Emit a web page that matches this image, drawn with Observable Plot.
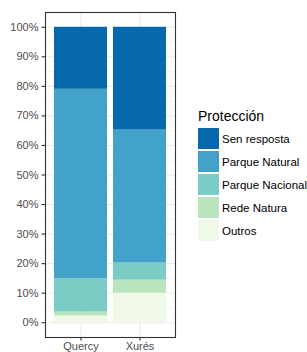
<!DOCTYPE html>
<html>
<head>
<meta charset="utf-8">
<script src="https://cdn.jsdelivr.net/npm/d3@7"></script>
<script src="https://cdn.jsdelivr.net/npm/@observablehq/plot@0.6"></script>
<style>
  html, body { margin: 0; padding: 0; background: #fff; }
  #wrap { position: relative; width: 307px; height: 352px; font-family: "Liberation Sans", Arial, sans-serif; }
  #legend { position: absolute; left: 198px; top: 109px; }
  #legend .title { font-size: 14px; color: #000; height: 18px; line-height: 14px; }
  #legend .row { display: flex; align-items: center; height: 23px; }
  #legend .sw { width: 21px; height: 21px; }
  #legend .lab { margin-left: 3px; font-size: 11.5px; color: #000; white-space: nowrap; }
</style>
</head>
<body>
<div id="wrap"><div id="chart"></div><div id="legend"></div></div>
<script>
const categories = ["Quercy", "Xurés"];
const protecciones = ["Outros", "Rede Natura", "Parque Nacional", "Parque Natural", "Sen resposta"];
const quercy = [2.3, 1.3, 11.3, 64.1, 21.0];
const xures = [10.0, 4.4, 5.8, 45.0, 34.8];
const colors = ["#f0f9e8", "#bae4bc", "#7bccc4", "#43a2ca", "#0868ac"];
const yTicks = [0, 10, 20, 30, 40, 50, 60, 70, 80, 90, 100];
const yMinor = [5, 15, 25, 35, 45, 55, 65, 75, 85, 95];
const legendTitle = "Protección";

const series = [quercy, xures];
const rows = [];
categories.forEach((c, i) => protecciones.forEach((p, j) => rows.push({region: c, prot: p, value: series[i][j]})));

const font = "'Liberation Sans', Arial, sans-serif";
const chart = Plot.plot({
  width: 180,
  height: 352,
  marginLeft: 45,
  marginRight: 5,
  marginTop: 12,
  marginBottom: 15,
  style: {fontFamily: font, fontSize: "11px", background: "#fff"},
  x: {domain: categories, paddingInner: 0.1, paddingOuter: 0.15, label: null},
  y: {domain: [-5, 105], label: null},
  color: {domain: protecciones, range: colors},
  marks: [
    Plot.gridY(yMinor, {stroke: "#f0f0f0", strokeOpacity: 1, strokeWidth: 0.6}),
    Plot.gridY(yTicks, {stroke: "#ebebeb", strokeOpacity: 1, strokeWidth: 1.1}),
    Plot.gridX(categories, {stroke: "#ebebeb", strokeOpacity: 1, strokeWidth: 1.1}),
    Plot.barY(rows, {x: "region", y: "value", fill: "prot"}),
    Plot.axisY(yTicks, {text: null, tickSize: 3.5, stroke: "#333", strokeWidth: 1.1}),
    Plot.axisY(yTicks, {tickSize: 0, tickPadding: 7, tickFormat: d => d + "%", fill: "#4d4d4d", fontSize: 11, label: null}),
    Plot.axisX(categories, {text: null, tickSize: 3.5, stroke: "#333", strokeWidth: 1.1}),
    Plot.axisX(categories, {tickSize: 0, tickPadding: 5, fill: "#4d4d4d", fontSize: 11, label: null}),
    Plot.frame({stroke: "#333", strokeWidth: 1.1})
  ]
});
document.getElementById("chart").appendChild(chart);

const legend = document.getElementById("legend");
const t = document.createElement("div");
t.className = "title";
t.textContent = legendTitle;
legend.appendChild(t);
protecciones.slice().reverse().forEach(p => {
  const row = document.createElement("div");
  row.className = "row";
  const sw = document.createElement("div");
  sw.className = "sw";
  sw.style.background = colors[protecciones.indexOf(p)];
  const lab = document.createElement("div");
  lab.className = "lab";
  lab.textContent = p;
  row.appendChild(sw);
  row.appendChild(lab);
  legend.appendChild(row);
});
</script>
</body>
</html>
